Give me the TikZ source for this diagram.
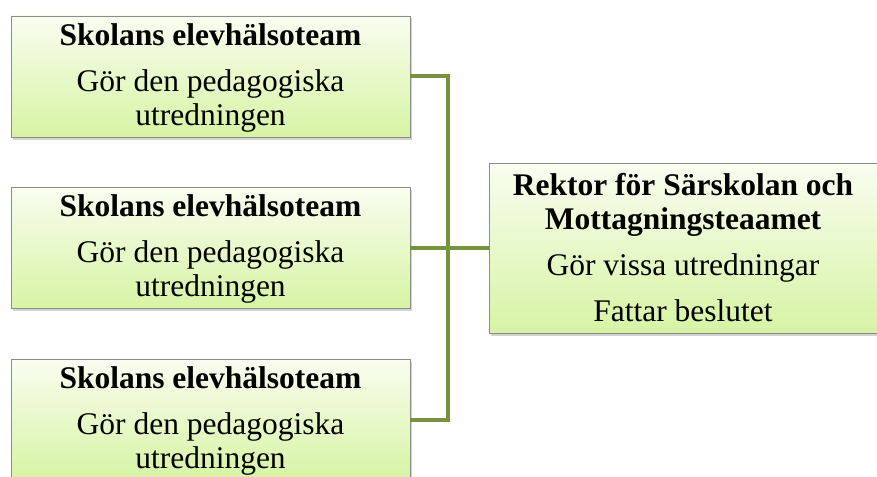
\documentclass[tikz,border=0pt]{standalone}
\usepackage{fontspec}
\setmainfont{Liberation Serif}
\usepackage{tikz}
\usetikzlibrary{shadows}
\definecolor{linkgreen}{RGB}{118,146,60}
\definecolor{boxtop}{RGB}{249,253,240}
\definecolor{boxbottom}{RGB}{214,244,164}
\def\teamsep{171.5}

\begin{document}
\begin{tikzpicture}[x=1pt,y=-1pt]
    \tikzstyle{box}=[draw=black!45,line width=0.8pt,top color=boxtop,bottom color=boxbottom,
        align=center,inner sep=0pt,font=\fontsize{31.5}{34}\selectfont,
        drop shadow={shadow xshift=1.5pt,shadow yshift=-2.5pt,opacity=0.35}]
    \tikzstyle{team}=[box,minimum width=399pt,minimum height=121pt,text depth=4pt]
    \tikzstyle{rector}=[box,minimum width=388pt,minimum height=170pt]
    \tikzstyle{link}=[draw=linkgreen,line width=4pt]

    \useasboundingbox (0,0) rectangle (877,476);

    % Draw the school team boxes
    \foreach \name in {1,2,3}
        \node[team] (E-\name) at (210.5,{76.5+(\name-1)*\teamsep})
            {\textbf{Skolans elevhälsoteam}\\[12pt]Gör den pedagogiska\\utredningen};

    % Draw the rector box
    \node[rector] (R) at (683,248)
        {\textbf{Rektor för Särskolan och}\\\textbf{Mottagningsteaamet}\\[12pt]Gör vissa utredningar\\[12pt]Fattar beslutet};

    % Connect the team boxes to the rector box
    \coordinate (hub) at (448,248);
    \draw[link] (E-1.east) -| (hub) |- (E-3.east);
    \draw[link] (E-2.east) -- (R.west);
\end{tikzpicture}
\end{document}
